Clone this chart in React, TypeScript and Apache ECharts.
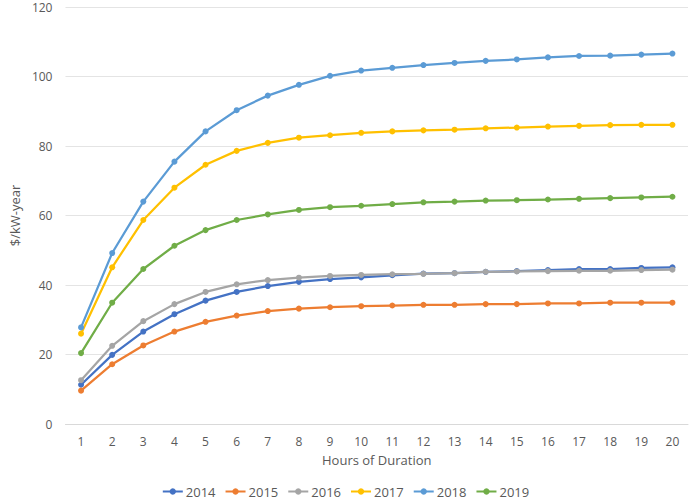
import React, { useEffect, useRef } from "react";
import * as echarts from "echarts";

const hours = ["1","2","3","4","5","6","7","8","9","10","11","12","13","14","15","16","17","18","19","20"];
const s2014 = [11.3, 19.9, 26.6, 31.6, 35.5, 38.0, 39.7, 40.9, 41.7, 42.2, 42.8, 43.3, 43.4, 43.8, 44.0, 44.3, 44.6, 44.6, 44.9, 45.1];
const s2015 = [9.6, 17.2, 22.6, 26.6, 29.4, 31.2, 32.5, 33.2, 33.6, 33.9, 34.1, 34.3, 34.3, 34.5, 34.5, 34.7, 34.7, 34.9, 34.9, 34.9];
const s2016 = [12.6, 22.5, 29.6, 34.5, 38.0, 40.2, 41.4, 42.1, 42.6, 42.9, 43.1, 43.2, 43.4, 43.8, 43.9, 44.0, 44.1, 44.1, 44.3, 44.4];
const s2017 = [26.0, 45.1, 58.7, 68.0, 74.6, 78.6, 80.9, 82.4, 83.1, 83.8, 84.2, 84.5, 84.7, 85.1, 85.3, 85.6, 85.8, 86.0, 86.1, 86.1];
const s2018 = [27.8, 49.2, 64.0, 75.5, 84.2, 90.3, 94.5, 97.6, 100.2, 101.7, 102.5, 103.3, 103.9, 104.5, 104.9, 105.5, 105.9, 106.0, 106.3, 106.6];
const s2019 = [20.4, 34.9, 44.6, 51.3, 55.8, 58.7, 60.3, 61.6, 62.4, 62.8, 63.3, 63.8, 64.0, 64.3, 64.4, 64.6, 64.8, 65.0, 65.2, 65.4];

const seriesNames = ["2014", "2015", "2016", "2017", "2018", "2019"];
const seriesData = [s2014, s2015, s2016, s2017, s2018, s2019];
const colors = ["#4472C4", "#ED7D31", "#A5A5A5", "#FFC000", "#5B9BD5", "#70AD47"];

const FONT = "'Open Sans', 'Noto Sans', sans-serif";

export default function App() {
  const ref = useRef<HTMLDivElement>(null);
  useEffect(() => {
    if (!ref.current) return;
    const chart = echarts.init(ref.current, null, { renderer: "svg" });
    chart.setOption({
      animation: false,
      textStyle: { fontFamily: FONT },
      grid: { left: 51, right: 3, top: 7, bottom: 76 },
      legend: {
        bottom: 2,
        left: "center",
        itemWidth: 20,
        itemHeight: 8,
        itemGap: 9,
        padding: 0,
        textStyle: { color: "#595959", fontSize: 13, fontFamily: FONT, padding: [0, 0, 0, -2] },
        data: seriesNames,
      },
      xAxis: {
        type: "category",
        data: hours,
        boundaryGap: true,
        name: "Hours of Duration",
        nameLocation: "middle",
        nameGap: 29,
        nameTextStyle: { color: "#595959", fontSize: 13, fontFamily: FONT },
        axisLine: { show: true, lineStyle: { color: "#D9D9D9" } },
        axisTick: { show: false },
        axisLabel: { color: "#595959", fontSize: 12, margin: 11, fontFamily: FONT },
      },
      yAxis: {
        type: "value",
        min: 0,
        max: 120,
        interval: 20,
        name: "$/kW-year",
        nameLocation: "middle",
        nameGap: 35,
        nameTextStyle: { color: "#595959", fontSize: 13, fontFamily: FONT },
        axisLine: { show: false },
        axisTick: { show: false },
        axisLabel: { color: "#595959", fontSize: 12, margin: 13, fontFamily: FONT },
        splitLine: { lineStyle: { color: "#E4E4E4", width: 1 } },
      },
      series: seriesNames.map((name, i) => ({
        name,
        type: "line",
        data: seriesData[i],
        symbol: "circle",
        symbolSize: 6,
        showSymbol: true,
        lineStyle: { color: colors[i], width: 2.25 },
        itemStyle: { color: colors[i] },
        z: 2 + i,
      })),
    });
    return () => chart.dispose();
  }, []);
  return <div ref={ref} style={{ width: 691, height: 500, position: "absolute", left: 0, top: 0 }} />;
}
